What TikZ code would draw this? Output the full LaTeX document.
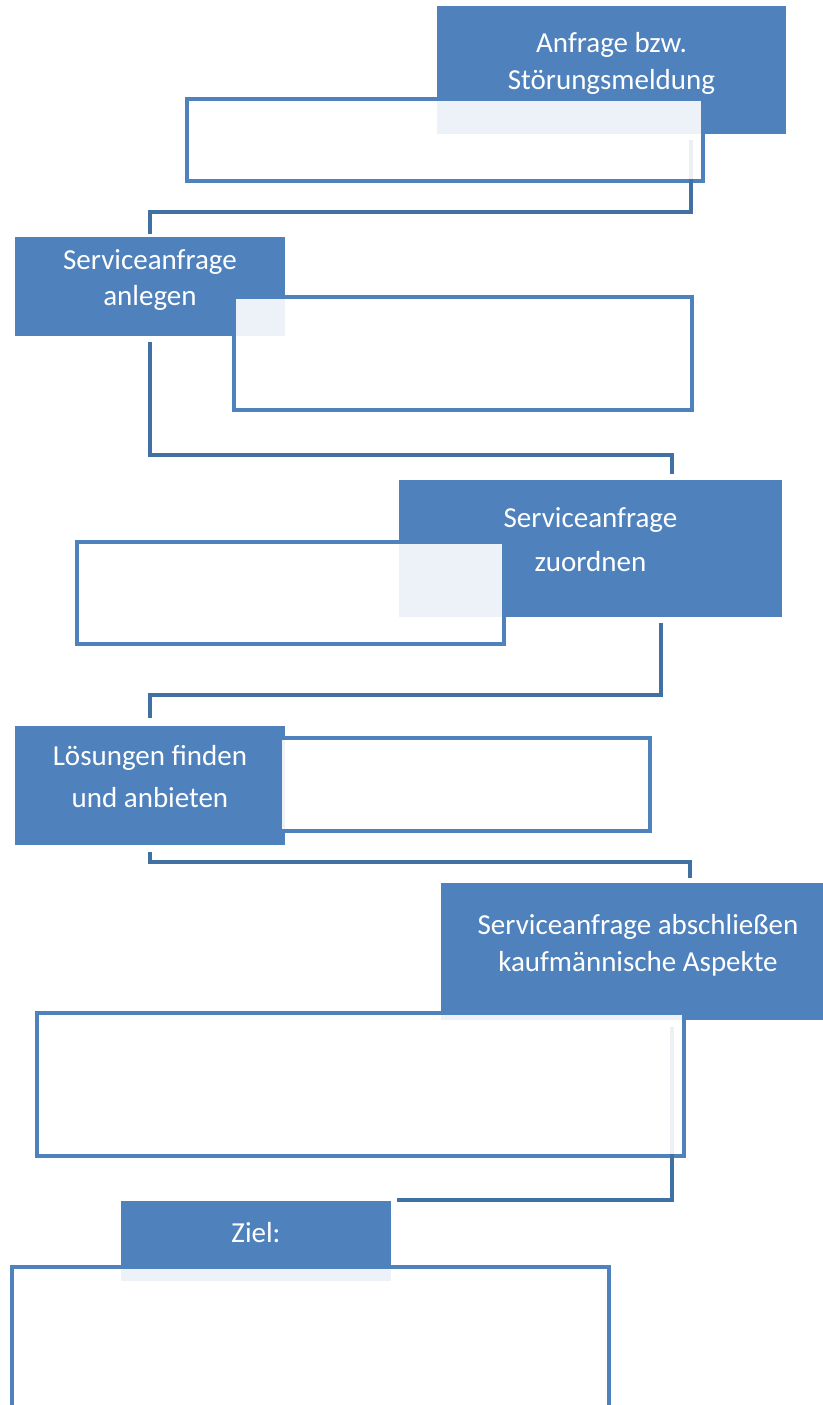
\documentclass[tikz,border=0pt]{standalone}
\usepackage{fontspec}
\setmainfont{Carlito}
\usetikzlibrary{calc}
\definecolor{stepblue}{RGB}{79,129,189}
\definecolor{linkblue}{RGB}{65,112,163}

\begin{document}
\begin{tikzpicture}[x=0.02cm, y=-0.02cm,
    every node/.style={inner sep=0pt, outer sep=0pt, anchor=north west},
    titlebox/.style={fill=stepblue, text=white, align=center, text depth=0.36cm, font=\fontsize{16.5}{21}\selectfont},
    framebox/.style={draw=stepblue, line width=0.085cm},
    link/.style={draw=linkblue, line width=0.08cm},
    veil/.style={fill=white, fill opacity=0.9}]
  \useasboundingbox (0,0) rectangle (822,1405);

  % frames first, the title boxes hide part of their border
  \node[framebox, minimum width=10.32cm, minimum height=1.64cm] (f1) at (187,99) {};
  \node[framebox, minimum width=9.16cm, minimum height=2.26cm] (f2) at (234,297) {};
  \node[framebox, minimum width=8.54cm, minimum height=2.04cm] (f3) at (77,542) {};
  \node[framebox, minimum width=7.40cm, minimum height=1.86cm] (f4) at (280,738) {};
  \node[framebox, minimum width=12.94cm, minimum height=2.86cm] (f5) at (37,1013) {};
  \node[framebox, minimum width=11.94cm, minimum height=3.20cm] (f6) at (12,1267) {};

  % title boxes
  \node[titlebox, minimum width=6.98cm, minimum height=2.56cm] (t1) at (437,6) {Anfrage bzw.\\Störungsmeldung};
  \node[titlebox, minimum width=5.40cm, minimum height=1.98cm] (t2) at (15,237) {Serviceanfrage\\anlegen};
  \node[titlebox, minimum width=7.66cm, minimum height=2.74cm] (t3) at (399,480) {Serviceanfrage\\[4pt]zuordnen};
  \node[titlebox, minimum width=5.40cm, minimum height=2.38cm] (t4) at (15,726) {Lösungen finden\\[3pt]und anbieten};
  \node[titlebox, minimum width=7.88cm, minimum height=2.74cm] (t5) at (441,883) {Serviceanfrage abschließen\\kaufmännische Aspekte};
  \node[titlebox, minimum width=5.40cm, minimum height=1.60cm] (t6) at (121,1201) {Ziel:};

  % connectors
  \draw[link] ($(t1.south)+(80,6)$) |- ($(t2.north)+(0,-25)$) -- ($(t2.north)+(0,-3)$);
  \draw[link] ($(t2.south)+(0,6)$) |- ($(t3.north)+(82,-25)$) -- ($(t3.north)+(82,-6)$);
  \draw[link] ($(t3.south)+(71,6)$) |- ($(t4.north)+(0,-31)$) -- ($(t4.north)+(0,-8)$);
  \draw[link] ($(t4.south)+(0,7)$) |- ($(t5.north)+(52,-21)$) -- ($(t5.north)+(52,-5)$);
  \draw[link] ($(t5.south)+(34,7)$) |- ($(t6.north east)+(6,-1)$);

  % see-through frame insides
  \foreach \f in {f1,f2,f3,f4,f5,f6}
    \fill[veil] ($(\f.north west)+(2,2)$) rectangle ($(\f.south east)+(-2,-2)$);
\end{tikzpicture}
\end{document}
